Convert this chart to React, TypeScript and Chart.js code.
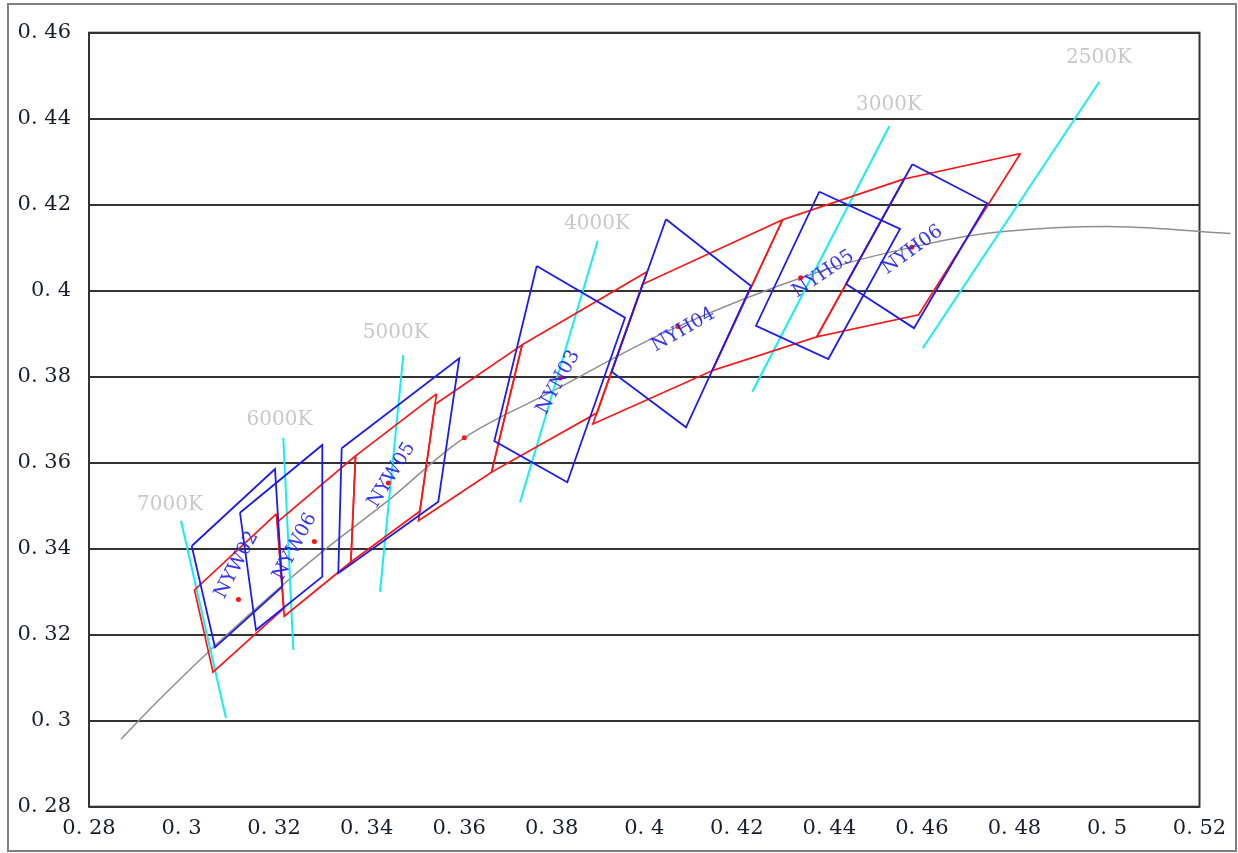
import React, { useEffect, useRef } from "react";
import { Chart, registerables } from "chart.js";

Chart.register(...registerables);

// ---- Planckian locus (gray curve) ----
const planckX = [0.2869, 0.2951, 0.3064, 0.3135, 0.3221, 0.3324, 0.3451, 0.3611, 0.3805, 0.4053, 0.4369, 0.4599, 0.477, 0.5018, 0.5267];
const planckY = [0.2957, 0.3048, 0.3166, 0.3236, 0.3318, 0.341, 0.3516, 0.3658, 0.3768, 0.3907, 0.4041, 0.4106, 0.4137, 0.4149, 0.4133];

// ---- Isotherm lines (cyan) ----
const cctNames = ["7000K", "6000K", "5000K", "4000K", "3000K", "2500K"];
const cctTopX = [0.29988, 0.32199, 0.34793, 0.38994, 0.45297, 0.49835];
const cctTopY = [0.34651, 0.36581, 0.38505, 0.41156, 0.4383, 0.4486];
const cctBottomX = [0.3096, 0.32416, 0.34289, 0.37315, 0.42336, 0.46018];
const cctBottomY = [0.30063, 0.31644, 0.33, 0.35079, 0.37651, 0.3866];
const cctLabelX = [0.29751, 0.32117, 0.34629, 0.38979, 0.4529, 0.49828];
const cctLabelY = [0.35016, 0.36993, 0.39028, 0.41551, 0.44319, 0.45412];

// ---- ANSI quadrangles (red) ----
const ansi6500X = [0.3205, 0.3028, 0.3068, 0.3221];
const ansi6500Y = [0.3481, 0.3304, 0.3113, 0.3261];
const ansi5700X = [0.3376, 0.3207, 0.3222, 0.3366];
const ansi5700Y = [0.3616, 0.3462, 0.3243, 0.3369];
const ansi5000X = [0.3551, 0.3376, 0.3366, 0.3515];
const ansi5000Y = [0.376, 0.3616, 0.3369, 0.3487];
const ansi4500X = [0.3736, 0.3548, 0.3512, 0.367];
const ansi4500Y = [0.3874, 0.3736, 0.3465, 0.3578];
const ansi4000X = [0.4006, 0.3736, 0.367, 0.3898];
const ansi4000Y = [0.4044, 0.3874, 0.3578, 0.3716];
const ansi3500X = [0.4299, 0.3996, 0.3889, 0.4147];
const ansi3500Y = [0.4165, 0.4015, 0.369, 0.3814];
const ansi3000X = [0.4562, 0.4299, 0.4147, 0.4373];
const ansi3000Y = [0.426, 0.4165, 0.3814, 0.3893];
const ansi2700X = [0.4813, 0.4562, 0.4373, 0.4593];
const ansi2700Y = [0.4319, 0.426, 0.3893, 0.3944];
const ansiCenterX = [0.3123, 0.3287, 0.3447, 0.3611, 0.3818, 0.4073, 0.4338, 0.4578];
const ansiCenterY = [0.3282, 0.3417, 0.3553, 0.3658, 0.3797, 0.3917, 0.403, 0.4101];

// ---- NY bins (blue) ----
const nyw02X = [0.3022, 0.3202, 0.32178, 0.30723];
const nyw02Y = [0.34063, 0.35853, 0.33116, 0.31707];
const nyw06X = [0.31263, 0.33042, 0.33042, 0.31609];
const nyw06Y = [0.34837, 0.36412, 0.33349, 0.32109];
const nyw05X = [0.33461, 0.36003, 0.35549, 0.33388];
const nyw05Y = [0.36335, 0.38428, 0.35093, 0.33428];
const nyn03X = [0.37676, 0.39584, 0.38337, 0.3676];
const nyn03Y = [0.40574, 0.39372, 0.35544, 0.36505];
const nyh04X = [0.4047, 0.42307, 0.40903, 0.39297];
const nyh04Y = [0.4166, 0.40109, 0.36823, 0.38116];
const nyh05X = [0.43784, 0.45528, 0.43978, 0.42415];
const nyh05Y = [0.42302, 0.41435, 0.38412, 0.39186];
const nyh06X = [0.45794, 0.47414, 0.4583, 0.44361];
const nyh06Y = [0.4294, 0.42033, 0.3913, 0.40156];

const binNames = ["NYW02", "NYW06", "NYW05", "NYN03", "NYH04", "NYH05", "NYH06"];
const binLabelX = [0.31192, 0.32452, 0.34542, 0.38143, 0.40844, 0.4387, 0.45794];
const binLabelY = [0.33621, 0.34047, 0.35714, 0.3787, 0.39086, 0.40388, 0.40947];
const binLabelAngle = [-62, -62, -58, -61, -30, -34, -36];

const RED = "#ff1414";
const BLUE = "#1c1cf2";
const CYAN = "#14eef4";
const GRID = "#333333";

function pts(xs: number[], ys: number[], close = false) {
  const p = xs.map((x, i) => ({ x, y: ys[i] }));
  if (close) p.push({ x: xs[0], y: ys[0] });
  return p;
}

function polyDs(xs: number[], ys: number[], color: string, width = 1.5) {
  return {
    type: "line" as const,
    data: pts(xs, ys, true),
    borderColor: color,
    borderWidth: width,
    pointRadius: 0,
    showLine: true,
    fill: false,
    tension: 0,
  };
}

const decorPlugin = {
  id: "decor",
  beforeDraw(chart: any) {
    const ctx = chart.ctx;
    ctx.save();
    ctx.fillStyle = "#ffffff";
    ctx.fillRect(0, 0, chart.width, chart.height);
    ctx.strokeStyle = "#808080";
    ctx.lineWidth = 2;
    ctx.strokeRect(8, 4, 1228, 847);
    ctx.restore();
  },
  beforeDatasetsDraw(chart: any) {
    const ctx = chart.ctx;
    const { left, right, top, bottom } = chart.chartArea;
    ctx.save();
    ctx.strokeStyle = GRID;
    ctx.lineWidth = 2;
    ctx.strokeRect(left, top, right - left, bottom - top);
    ctx.restore();
  },
  afterDatasetsDraw(chart: any) {
    const ctx = chart.ctx;
    const xs = chart.scales.x;
    const ys = chart.scales.y;
    ctx.save();
    ctx.textAlign = "center";
    ctx.textBaseline = "middle";
    ctx.font = "20px 'DejaVu Serif', serif";
    ctx.fillStyle = "#c8c8c8";
    cctNames.forEach((n, i) => {
      ctx.fillText(n, xs.getPixelForValue(cctLabelX[i]), ys.getPixelForValue(cctLabelY[i]));
    });
    ctx.font = "19px 'DejaVu Serif', serif";
    ctx.fillStyle = "rgba(36,36,245,0.92)";
    binNames.forEach((n, i) => {
      ctx.save();
      ctx.translate(xs.getPixelForValue(binLabelX[i]), ys.getPixelForValue(binLabelY[i]));
      ctx.rotate((binLabelAngle[i] * Math.PI) / 180);
      ctx.fillText(n, 0, 0);
      ctx.restore();
    });
    ctx.restore();
  },
};

function fmt(v: any) {
  const s = (Math.round(Number(v) * 100) / 100).toString();
  return s.replace(".", ". ");
}

export default function App() {
  const ref = useRef<HTMLCanvasElement | null>(null);
  useEffect(() => {
    if (!ref.current) return;
    const datasets: any[] = [];
    [
      [nyw02X, nyw02Y],
      [nyw06X, nyw06Y],
      [nyw05X, nyw05Y],
      [nyn03X, nyn03Y],
      [nyh04X, nyh04Y],
      [nyh05X, nyh05Y],
      [nyh06X, nyh06Y],
    ].forEach(([a, b]) => datasets.push(polyDs(a, b, BLUE, 1.8)));
    datasets.push({
      type: "scatter",
      data: pts(ansiCenterX, ansiCenterY),
      pointRadius: 2.5,
      pointBackgroundColor: RED,
      pointBorderWidth: 0,
      showLine: false,
    });
    [
      [ansi6500X, ansi6500Y],
      [ansi5700X, ansi5700Y],
      [ansi5000X, ansi5000Y],
      [ansi4500X, ansi4500Y],
      [ansi4000X, ansi4000Y],
      [ansi3500X, ansi3500Y],
      [ansi3000X, ansi3000Y],
      [ansi2700X, ansi2700Y],
    ].forEach(([a, b]) => datasets.push(polyDs(a, b, RED, 1.7)));
    cctNames.forEach((_, i) => {
      datasets.push({
        type: "line",
        data: [
          { x: cctTopX[i], y: cctTopY[i] },
          { x: cctBottomX[i], y: cctBottomY[i] },
        ],
        borderColor: CYAN,
        borderWidth: 2,
        pointRadius: 0,
        showLine: true,
        fill: false,
      });
    });
    datasets.push({
      type: "line",
      data: pts(planckX, planckY),
      borderColor: "#8f8f8f",
      borderWidth: 1.5,
      pointRadius: 0,
      showLine: true,
      fill: false,
      tension: 0.35,
      clip: false,
    });

    const chart = new Chart(ref.current, {
      type: "scatter",
      data: { datasets },
      plugins: [decorPlugin],
      options: {
        animation: false,
        responsive: false,
        devicePixelRatio: 1,
        layout: { padding: { left: 0, right: 38.5, top: 32.7, bottom: 0 } },
        plugins: { legend: { display: false }, tooltip: { enabled: false } },
        scales: {
          x: {
            type: "linear",
            min: 0.28,
            max: 0.52,
            afterFit: (s: any) => {
              s.height = 46.3;
            },
            grid: { display: false },
            border: { display: false },
            ticks: {
              stepSize: 0.02,
              autoSkip: false,
              maxRotation: 0,
              padding: 1,
              color: "#1b1b2f",
              font: { family: "'DejaVu Serif', serif", size: 21 },
              callback: (v: any) => fmt(v),
            },
          },
          y: {
            type: "linear",
            min: 0.28,
            max: 0.46,
            afterFit: (s: any) => {
              s.width = 89;
            },
            grid: { color: GRID, lineWidth: 2, drawTicks: false },
            border: { display: false },
            ticks: {
              stepSize: 0.02,
              padding: 18,
              color: "#1b1b2f",
              font: { family: "'DejaVu Serif', serif", size: 21 },
              callback: (v: any) => fmt(v),
            },
          },
        },
      } as any,
    });
    return () => chart.destroy();
  }, []);
  return (
    <div style={{ position: "absolute", left: 0, top: 0, width: 1238, height: 853 }}>
      <canvas ref={ref} width={1238} height={853} style={{ display: "block" }} />
    </div>
  );
}
